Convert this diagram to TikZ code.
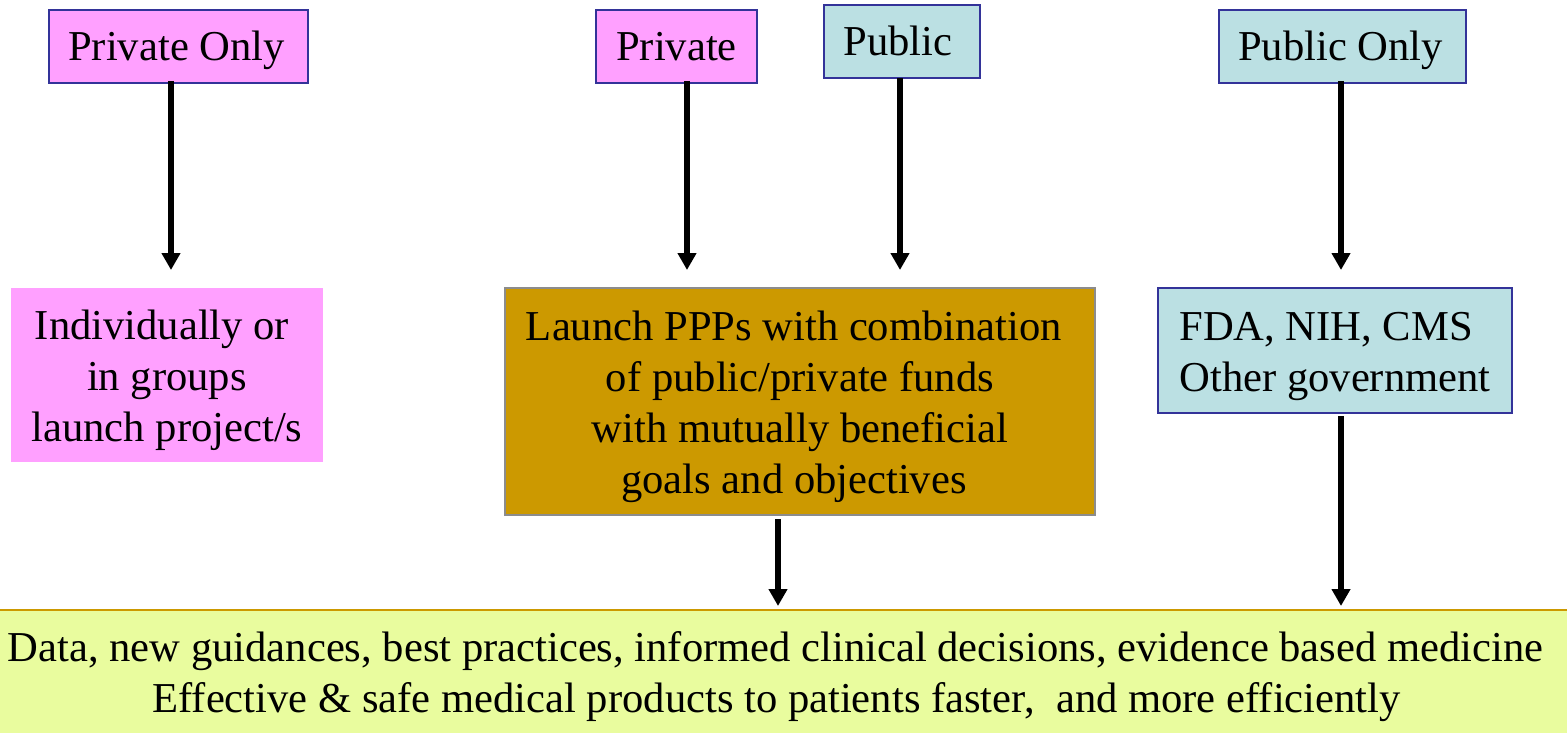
\documentclass[tikz,border=0pt]{standalone}
\usepackage{fontspec}
\setmainfont{Liberation Serif}
\usetikzlibrary{arrows.meta}
\definecolor{pinkf}{HTML}{FFA0FF}
\definecolor{bluef}{HTML}{BBE0E3}
\definecolor{bordb}{HTML}{333399}
\definecolor{pppf}{HTML}{CC9900}
\definecolor{pppb}{HTML}{8C8C8C}
\definecolor{botf}{HTML}{E9FC9E}
\definecolor{botb}{HTML}{CC9900}
\newcommand{\firststrut}{\rule{0pt}{19.6pt}}
\newcommand{\tsp}[1]{\hspace*{#1}}
\begin{document}
\begin{tikzpicture}[x=0.5pt,y=-0.5pt,
  every node/.style={font=\fontsize{21.3pt}{25.5pt}\selectfont, inner sep=0pt},
  tag/.style={draw=bordb, line width=1pt, text height=17.9pt, text depth=3.8pt, minimum height=36.5pt},
  arr/.style={line width=3pt, -{Triangle[width=9pt,length=8.5pt]}}]
\useasboundingbox (0,0) rectangle (1567,733);
% top tags
\node[tag, fill=pinkf, minimum width=129.5pt] (po) at (178.5,46.5) {Private Only\tsp{2pt}};
\node[tag, fill=pinkf, minimum width=80.5pt] (pv) at (676.5,46.5) {Private};
\node[tag, fill=bluef, minimum width=78pt] (pb) at (902,41.5) {Public\tsp{4pt}};
\node[tag, fill=bluef, minimum width=123.5pt] (pu) at (1342.5,46.5) {Public Only\tsp{2pt}};
% middle boxes
\node[fill=pinkf, minimum width=156pt, minimum height=87pt, align=center] (ind) at (167,375)
  {\firststrut Individually or\tsp{5pt}\\in groups\\launch project/s};
\node[fill=pppf, draw=pppb, line width=1pt, minimum width=295pt, minimum height=113.5pt, align=center] (ppp) at (800,401.5)
  {\firststrut Launch PPPs with combination\tsp{6pt}\\of public/private funds\tsp{2pt}\\with mutually beneficial\tsp{6pt}\\goals and objectives\tsp{6pt}};
\node[fill=bluef, draw=bordb, line width=1pt, minimum width=177pt, minimum height=62.5pt,
  align=left] (fda) at (1335,350.5)
  {\firststrut FDA, NIH, CMS\\Other government};
% bottom box
\node[fill=botf, minimum width=783.5pt, minimum height=61.5pt, align=center] (bot) at (783.5,671.5)
  {\firststrut Data, new guidances, best practices, informed clinical decisions, evidence based medicine\tsp{8pt}\\
   Effective \& safe medical products to patients faster,~ and more efficiently\tsp{7pt}};
\draw[botb, line width=1pt] (bot.north west) -- (bot.north east);
% arrow ends
\coordinate (e1) at (171,270);
\coordinate (e2) at (687,270);
\coordinate (e3) at (900,270);
\coordinate (e4) at (1341,270);
\coordinate (e5) at (778,606);
\coordinate (e6) at (1341,606);
\draw[arr] (po.south -| e1) ++(0,-3) -- (e1);
\draw[arr] (pv.south -| e2) ++(0,-3) -- (e2);
\draw[arr] (pb.south -| e3) ++(0,-1) -- (e3);
\draw[arr] (pu.south -| e4) ++(0,-3) -- (e4);
\draw[arr] (ppp.south -| e5) ++(0,3) -- (e5);
\draw[arr] (fda.south -| e6) ++(0,2) -- (e6);
\end{tikzpicture}
\end{document}
